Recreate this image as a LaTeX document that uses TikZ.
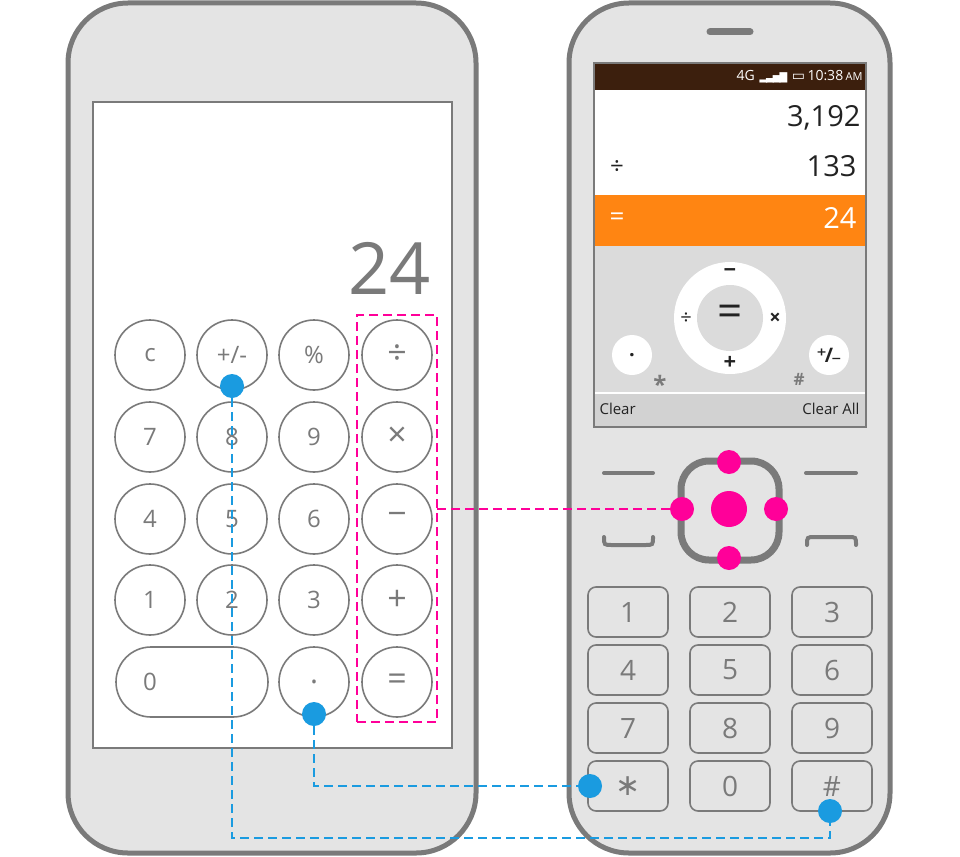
\documentclass[tikz,border=0pt]{standalone}
\usepackage{fontspec}
\setmainfont{Open Sans}
\newfontfamily\sym{DejaVu Sans}
\definecolor{fr}{HTML}{7A7A7A}
\definecolor{bd}{HTML}{E4E4E4}
\definecolor{mg}{HTML}{FF0099}
\definecolor{bl}{HTML}{1A9BE0}
\definecolor{brn}{HTML}{3C1F0D}
\definecolor{org}{HTML}{FF8512}
\definecolor{dk}{HTML}{222222}
\begin{document}
\begin{tikzpicture}[x=1pt,y=-1pt,
  body/.style={draw=fr,line width=5,fill=bd,rounded corners=60},
  btn/.style={circle,draw=fr,line width=1.6,fill=white,minimum size=70,inner sep=0,text=fr,font=\fontsize{24}{24}\selectfont},
  opb/.style={btn,font=\fontsize{34}{34}\selectfont},
  key/.style={rectangle,rounded corners=8,draw=fr,line width=1.6,minimum width=80,minimum height=50,inner sep=0,text=fr,font=\fontsize{28}{28}\selectfont},
  mdot/.style={circle,fill=mg,inner sep=0,minimum size=24},
  bdot/.style={circle,fill=bl,inner sep=0,minimum size=24},
  mline/.style={mg,line width=2.2,dash pattern=on 9 off 5},
  bline/.style={bl,line width=2.2,dash pattern=on 9 off 5}]
\useasboundingbox (0,0) rectangle (960,856);
% left phone
\draw[body] (68,3) rectangle (476,853);
\draw[fr,fill=white,line width=1.2] (93,102) rectangle (452,748);
\node[anchor=east,text=fr,font=\fontsize{72}{72}\selectfont] (res) at (434,268) {24};
\foreach \t/\x/\y [count=\i] in {c/150/355,{+/-}/232/355,\%/314/355,
  7/150/437,8/232/437,9/314/437,
  4/150/519,5/232/519,6/314/519,
  1/150/600,2/232/600,3/314/600,
  {\fontsize{30}{30}\selectfont.}/314/682}
  \node[btn] (b\i) at (\x,\y) {\t};
\foreach \t/\y [count=\i] in {÷/355,×/437,−/519,+/600,=/682}
  \node[opb] (o\i) at (397,\y) {\t};
\node[btn,circle=false,rectangle,rounded corners=35,minimum width=152,minimum height=70] (b0) at (192,682) {};
\node[text=fr,font=\fontsize{24}{24}\selectfont] (z) at (150,682) {0};
\node[draw=mg,line width=2.2,dash pattern=on 9 off 5,minimum width=80,minimum height=407,inner sep=0] (ops) at (397,518.5) {};
% right phone
\draw[body] (569,3) rectangle (890,853);
\draw[fr,line width=7,line cap=round] (710,32) -- (750,32);
\fill[white] (594,63) rectangle (866,195);
\fill[brn] (594,63) rectangle (866,90);
\fill[org] (594,195) rectangle (866,246);
\fill[bd!96!black] (594,246) rectangle (866,393);
\fill[bd!92!black] (594,393) rectangle (866,427);
\draw[white,line width=1.5] (594,393) -- (866,393);
\draw[fr,line width=2] (594,63) rectangle (866,427);
\node[anchor=east,text=white,font=\fontsize{14}{14}\selectfont] (st) at (866,77) {4G\,\,{\sym\fontsize{10}{10}\selectfont\char"2582\kern-1pt\char"2583\kern-1pt\char"2585\kern-1pt\char"2587}\,\,{\sym\char"25AD}\,10:38\,{\fontsize{11}{11}\selectfont AM}};
\node[anchor=east,text=dk,font=\fontsize{29}{29}\selectfont] (n1) at (864,118) {3,192};
\node[text=dk,font=\fontsize{24}{24}\selectfont] (d1) at (617,168) {÷};
\node[anchor=east,text=dk,font=\fontsize{29}{29}\selectfont] (n2) at (860,166) {133};
\node[text=white,font=\fontsize{26}{26}\selectfont] (e1) at (617,219) {=};
\node[anchor=east,text=white,font=\fontsize{29}{29}\selectfont] (n3) at (860,218) {24};
\fill[white] (730,318) circle (56);
\fill[bd!96!black] (730,318) circle (33);
\node[text=dk,font=\fontsize{44}{44}\selectfont] (eq) at (730,316) {=};
\node[text=dk,font=\bfseries\fontsize{22}{22}\selectfont] at (730,273) {−};
\node[text=dk,font=\bfseries\fontsize{22}{22}\selectfont] at (730,363) {+};
\node[text=dk,font=\fontsize{20}{20}\selectfont] at (686,319) {÷};
\node[text=dk,font=\bfseries\fontsize{20}{20}\selectfont] at (775,319) {×};
\node[circle,fill=white,minimum size=40,inner sep=0,text=dk,font=\bfseries\fontsize{20}{20}\selectfont] (dotk) at (632,355) {.};
\node[circle,fill=white,minimum size=40,inner sep=0,text=dk,font=\bfseries\fontsize{20}{20}\selectfont] (pmk) at (829,355) {{\sym\char"207A}\kern-2pt/\kern-2pt{\sym\char"208B}};
\node[text=fr,font=\bfseries\fontsize{24}{24}\selectfont] at (660,384) {*};
\node[text=fr,font=\bfseries\fontsize{17}{17}\selectfont] at (799,379) {\#};
\node[anchor=west,text=dk,font=\fontsize{15}{15}\selectfont] (cl) at (596,409) {Clear};
\node[anchor=east,text=dk,font=\fontsize{15}{15}\selectfont] (ca) at (863,409) {Clear All};
% nav keys
\draw[fr,line width=7,rounded corners=28] (681,461) rectangle (779,560);
\draw[fr,line width=4,line cap=round] (604,473) -- (653,473) (806,473) -- (856,473);
\draw[fr,line width=4,line cap=round] (604,537) .. controls (604,545) .. (612,545) -- (645,545) .. controls (653,545) .. (653,537);
\draw[fr,line width=4,line cap=round] (807,545) .. controls (807,537) .. (815,537) -- (848,537) .. controls (856,537) .. (856,545);
\node[mdot] (nu) at (729,462) {};
\node[mdot] (nd) at (729,558) {};
\node[mdot] (nl) at (682,509) {};
\node[mdot] (nr) at (776,509) {};
\node[mdot,minimum size=36] (nc) at (729,509) {};
% keypad
\foreach \t/\x/\y in {1/628/612,2/730/612,3/832/612,4/628/670,5/730/670,6/832/670,7/628/728,8/730/728,9/832/728,0/730/786}
  \node[key] (k\t) at (\x,\y) {\t};
\node[key,font=\fontsize{30}{30}\sym\selectfont] (kst) at (628,786) {\char"2217};
\node[key] (khs) at (832,786) {\#};
% connectors
\coordinate (c1) at (232,838);
\coordinate (c2) at (830,838);
\coordinate (c3) at (314,786);
\coordinate (m1) at (437,509);
\node[bdot] (p1) at (232,386) {};
\node[bdot] (p2) at (314,714) {};
\node[bdot] (p3) at (590,786) {};
\node[bdot] (p4) at (830,811) {};
\draw[bline] (p1) -- (c1) -- (c2) -- (p4);
\draw[bline] (p2) -- (c3) -- (p3);
\draw[mline] (m1) -- (nl);
\end{tikzpicture}
\end{document}
